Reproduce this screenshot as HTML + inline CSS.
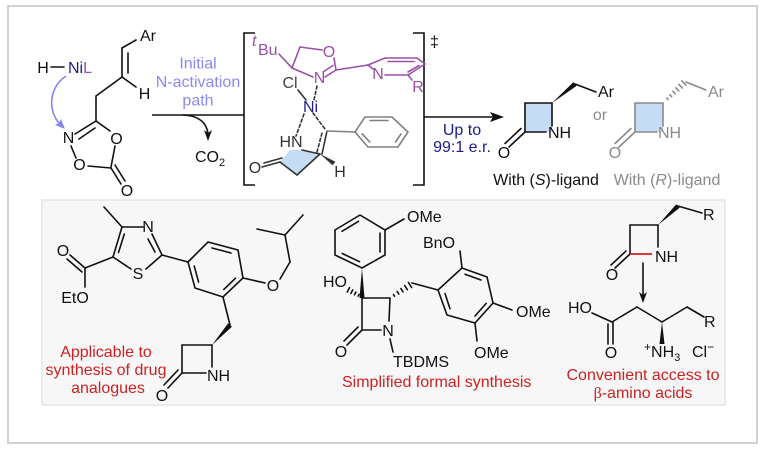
<!DOCTYPE html>
<html><head><meta charset="utf-8">
<style>
html,body{margin:0;padding:0;background:#fff}
svg{display:block}
text{font-family:"Liberation Sans",Arial,sans-serif;font-size:16px}
</style></head>
<body>
<svg width="767" height="450" viewBox="0 0 767 450" xmlns="http://www.w3.org/2000/svg">
<rect width="767" height="450" fill="#fff"/>
<rect x="8" y="6" width="749" height="437" fill="#fff" stroke="#d2d2d2" stroke-width="2"/>
<rect x="42" y="200" width="683" height="205" fill="#f7f7f7" stroke="#e6e6e6" stroke-width="1.5"/>

<!-- ===== Reactant ===== -->
<g stroke="#111" stroke-width="1.6" fill="none" stroke-linecap="round">
  <line x1="51" y1="67" x2="64" y2="67"/>
  <line x1="136" y1="40" x2="122" y2="48"/>
  <line x1="122" y1="48" x2="122" y2="77"/>
  <line x1="128" y1="53" x2="128" y2="73"/>
  <line x1="122" y1="77" x2="136" y2="87"/>
  <line x1="122" y1="77" x2="96" y2="96"/>
  <line x1="96" y1="96" x2="96" y2="121"/>
  <line x1="96" y1="121" x2="110" y2="131"/>
  <line x1="115" y1="146" x2="111" y2="167"/>
  <line x1="111" y1="168" x2="88" y2="166"/>
  <line x1="76" y1="158" x2="71" y2="146"/>
  <line x1="75" y1="134" x2="96" y2="121"/>
  <line x1="79" y1="139" x2="95" y2="128"/>
  <line x1="111" y1="168" x2="121" y2="184"/>
  <line x1="115" y1="165" x2="125" y2="181"/>
</g>
<text x="43" y="73" text-anchor="middle" fill="#111">H</text>
<text x="68" y="73"><tspan fill="#1c1c8a">Ni</tspan><tspan fill="#9b4fa8">L</tspan></text>
<text x="140" y="41" fill="#111">Ar</text>
<text x="144.5" y="99" text-anchor="middle" fill="#111">H</text>
<text x="68.5" y="143" text-anchor="middle" fill="#111">N</text>
<text x="116.5" y="144" text-anchor="middle" fill="#111">O</text>
<text x="79.5" y="170" text-anchor="middle" fill="#111">O</text>
<text x="127" y="196" text-anchor="middle" fill="#111">O</text>
<!-- lavender curved arrow -->
<path d="M66 76 C48 88 48 112 60 124" stroke="#8585ee" stroke-width="1.6" fill="none"/>
<polygon points="65,129 55,125 59,123 61,119" fill="#8585ee"/>
<text x="198" y="68.5" text-anchor="middle" fill="#8a8af0">Initial</text>
<text x="198" y="87" text-anchor="middle" fill="#8a8af0">N-activation</text>
<text x="198" y="105.5" text-anchor="middle" fill="#8a8af0">path</text>
<!-- reaction line + CO2 -->
<g stroke="#111" stroke-width="1.6" fill="none">
  <line x1="152" y1="115" x2="244" y2="115"/>
  <path d="M183 115 Q206 116 208 134"/>
  <path d="M255 33 H244 V185 H255"/>
  <path d="M413 33 H424 V185 H413"/>
  <line x1="424" y1="117" x2="497" y2="117"/>
</g>
<polygon points="208,141 204,130 208,133 212,130" fill="#111"/>
<polygon points="504,117 490,112 493,117 490,122" fill="#111"/>
<text x="195" y="162" fill="#111">CO<tspan font-size="11" dy="4">2</tspan></text>
<text x="430" y="47" font-size="14" fill="#111">‡</text>
<text x="462" y="135" text-anchor="middle" fill="#1c1c8a">Up to</text>
<text x="462" y="152" text-anchor="middle" fill="#1c1c8a">99:1 e.r.</text>

<!-- ===== Transition state ===== -->
<!-- lactam fill -->
<polygon points="303,150 320,154 297,175 280,162 290,150" fill="#c5dcf5"/>
<g stroke="#9b4fa8" stroke-width="1.6" fill="none" stroke-linecap="round">
  <line x1="279" y1="54" x2="292" y2="68"/>
  <line x1="292" y1="68" x2="300" y2="47"/>
  <line x1="300" y1="47" x2="322" y2="50"/>
  <line x1="334" y1="58" x2="336" y2="70"/>
  <line x1="336" y1="70" x2="325" y2="77"/>
  <line x1="333" y1="65.5" x2="323" y2="72"/>
  <line x1="313" y1="77" x2="292" y2="68"/>
  <line x1="336" y1="70" x2="368" y2="65"/>
  <line x1="368" y1="65" x2="385" y2="58"/>
  <line x1="385" y1="58" x2="417" y2="58"/>
  <line x1="388" y1="61.5" x2="414" y2="61.5"/>
  <line x1="417" y1="58" x2="425" y2="64"/>
  <line x1="425" y1="64" x2="408" y2="75"/>
  <line x1="419" y1="65.5" x2="408" y2="72"/>
  <line x1="408" y1="75" x2="385" y2="75"/>
  <line x1="373" y1="69" x2="368" y2="65"/>
  <line x1="408" y1="75" x2="412" y2="80"/>
</g>
<text x="252" y="46" font-size="11" font-style="italic" fill="#9b4fa8">t</text>
<text x="258" y="55" fill="#9b4fa8">Bu</text>
<text x="329" y="57" text-anchor="middle" fill="#9b4fa8">O</text>
<text x="319.5" y="83" text-anchor="middle" fill="#9b4fa8">N</text>
<text x="378" y="79" text-anchor="middle" font-size="15" fill="#9b4fa8">N</text>
<text x="418" y="92" text-anchor="middle" fill="#9b4fa8">R</text>
<text x="290" y="88" text-anchor="middle" fill="#444">Cl</text>
<text x="310.5" y="112" text-anchor="middle" fill="#1c1c8a">Ni</text>
<text x="291" y="147" text-anchor="middle" fill="#333">HN</text>
<text x="255" y="173" text-anchor="middle" fill="#333">O</text>
<text x="340" y="177" text-anchor="middle" fill="#333">H</text>
<g stroke="#333" stroke-width="1.6" fill="none" stroke-linecap="round">
  <line x1="298" y1="90" x2="306" y2="100"/>
  <line x1="317" y1="86" x2="314" y2="100" stroke-dasharray="3,2.5"/>
  <line x1="304" y1="114" x2="296" y2="136" stroke-dasharray="3,2.5"/>
  <line x1="313" y1="113" x2="325" y2="129" stroke-dasharray="3,2.5"/>
  <line x1="302" y1="150" x2="320" y2="154"/>
  <line x1="320" y1="154" x2="297" y2="175"/>
  <line x1="297" y1="175" x2="280" y2="162"/>
  <line x1="280" y1="162" x2="262" y2="167"/>
  <line x1="282" y1="158" x2="264" y2="163"/>
  <line x1="322" y1="154" x2="327" y2="131"/>
  <line x1="317" y1="152" x2="322" y2="133" stroke-dasharray="3,2.5"/>
</g>
<polygon points="320,154 335.5,161.7 332.5,165.3" fill="#333"/>
<g stroke="#808080" stroke-width="1.6" fill="none" stroke-linecap="round">
  <line x1="327" y1="131" x2="355" y2="132"/>
  <polygon points="355,132 365,117 392,117 408,132 398,147 368,147"/>
  <line x1="370" y1="120.5" x2="388" y2="120.5"/>
  <line x1="401" y1="134" x2="395.5" y2="142"/>
  <line x1="369.8" y1="142" x2="362" y2="133.7"/>
</g>

<!-- ===== Products ===== -->
<polygon points="525,103 552,103 552,132 525,132" fill="#c5dcf5"/>
<g stroke="#111" stroke-width="1.6" fill="none" stroke-linecap="round">
  <line x1="525" y1="103" x2="552" y2="103"/>
  <line x1="525" y1="103" x2="525" y2="132"/>
  <line x1="552" y1="103" x2="552" y2="126"/>
  <line x1="525" y1="132" x2="546" y2="132"/>
  <line x1="525" y1="132" x2="509" y2="147"/>
  <line x1="521" y1="128.5" x2="505" y2="143.5"/>
  <line x1="575" y1="84" x2="596" y2="92"/>
</g>
<polygon points="552,103 576.6,85.9 573.4,82.1" fill="#111"/>
<text x="548" y="138" fill="#111">NH</text>
<text x="504" y="158" text-anchor="middle" fill="#111">O</text>
<text x="598" y="97" fill="#111">Ar</text>
<text x="600" y="120" text-anchor="middle" fill="#8a8a8a">or</text>

<polygon points="635,103 663,103 663,132 635,132" fill="#c5dcf5"/>
<g stroke="#8a8a8a" stroke-width="1.6" fill="none" stroke-linecap="round">
  <line x1="635" y1="103" x2="663" y2="103"/>
  <line x1="635" y1="103" x2="635" y2="132"/>
  <line x1="663" y1="103" x2="663" y2="126"/>
  <line x1="635" y1="132" x2="657" y2="132"/>
  <line x1="635" y1="132" x2="619" y2="147"/>
  <line x1="631" y1="128.5" x2="615" y2="143.5"/>
  <line x1="686" y1="82" x2="706" y2="90"/>
  <line x1="666.7" y1="98.1" x2="668.1" y2="99.5"/>
  <line x1="669.75" y1="94.66" x2="671.65" y2="96.64"/>
  <line x1="672.8" y1="91.24" x2="675.2" y2="93.76"/>
  <line x1="675.8" y1="87.8" x2="678.8" y2="90.9"/>
  <line x1="678.9" y1="84.4" x2="682.3" y2="88"/>
  <line x1="681.9" y1="81" x2="685.9" y2="85.1"/>
</g>
<text x="658" y="138" fill="#8a8a8a">NH</text>
<text x="615" y="158" text-anchor="middle" fill="#8a8a8a">O</text>
<text x="708" y="97" fill="#8a8a8a">Ar</text>
<text x="546" y="185" text-anchor="middle" fill="#111">With (<tspan font-style="italic">S</tspan>)-ligand</text>
<text x="667" y="185" text-anchor="middle" fill="#8a8a8a">With (<tspan font-style="italic">R</tspan>)-ligand</text>

<!-- ===== Structure 1 ===== -->
<g stroke="#111" stroke-width="1.6" fill="none" stroke-linecap="round">
  <line x1="104" y1="207" x2="122" y2="227"/>
  <line x1="122" y1="227" x2="143" y2="227"/>
  <line x1="152" y1="234" x2="162" y2="255"/>
  <line x1="148" y1="239" x2="155" y2="252"/>
  <line x1="162" y1="255" x2="146" y2="269"/>
  <line x1="131" y1="269" x2="113" y2="257"/>
  <line x1="113" y1="257" x2="122" y2="227"/>
  <line x1="118.5" y1="252.5" x2="124.3" y2="234"/>
  <line x1="113" y1="257" x2="85" y2="268"/>
  <line x1="85" y1="268" x2="70" y2="255"/>
  <line x1="82" y1="272" x2="67" y2="259"/>
  <line x1="85" y1="268" x2="85" y2="287"/>
  <line x1="162" y1="255" x2="188" y2="262"/>
  <polygon points="188,262 208,242 238,250 243,278 223,297 195,288"/>
  <line x1="212" y1="248" x2="231" y2="253"/>
  <line x1="235.5" y1="278.2" x2="223.8" y2="289.5"/>
  <line x1="198.6" y1="282" x2="194.2" y2="266"/>
  <line x1="243" y1="278" x2="265" y2="283"/>
  <line x1="280" y1="279" x2="290" y2="262"/>
  <line x1="290" y1="262" x2="285" y2="235"/>
  <line x1="285" y1="235" x2="257" y2="229"/>
  <line x1="285" y1="235" x2="303" y2="215"/>
  <line x1="223" y1="297" x2="230" y2="325"/>
  <line x1="212" y1="345" x2="182" y2="345"/>
  <line x1="182" y1="345" x2="182" y2="373"/>
  <line x1="212" y1="345" x2="212" y2="367"/>
  <line x1="182" y1="373" x2="206" y2="373"/>
  <line x1="182" y1="373" x2="168" y2="388"/>
  <line x1="178" y1="370" x2="164" y2="385"/>
</g>
<polygon points="212,345 231.9,326.7 228.2,323.3" fill="#111"/>
<text x="148" y="232" text-anchor="middle" fill="#111">N</text>
<text x="138" y="279" text-anchor="middle" fill="#111">S</text>
<text x="63" y="256" text-anchor="middle" fill="#111">O</text>
<text x="75" y="303" text-anchor="middle" fill="#111">EtO</text>
<text x="273" y="291" text-anchor="middle" fill="#111">O</text>
<text x="207" y="381" fill="#111">NH</text>
<text x="162" y="401" text-anchor="middle" fill="#111">O</text>
<text x="106" y="357" text-anchor="middle" fill="#cc2222">Applicable to</text>
<text x="106" y="375" text-anchor="middle" fill="#cc2222">synthesis of drug</text>
<text x="108" y="393" text-anchor="middle" fill="#cc2222">analogues</text>

<!-- ===== Structure 2 ===== -->
<g stroke="#111" stroke-width="1.6" fill="none" stroke-linecap="round">
  <polygon points="335,230 360,215 385,230 385,255 362,268 335,255"/>
  <line x1="342" y1="231.3" x2="358.5" y2="221.3"/>
  <line x1="380" y1="233" x2="380" y2="252"/>
  <line x1="359.5" y1="261.7" x2="342.3" y2="253.5"/>
  <line x1="385" y1="230" x2="404" y2="219"/>
  <line x1="362" y1="298" x2="390" y2="298"/>
  <line x1="362" y1="298" x2="362" y2="330"/>
  <line x1="390" y1="298" x2="389" y2="321"/>
  <line x1="362" y1="330" x2="381" y2="330"/>
  <line x1="362" y1="330" x2="347" y2="345"/>
  <line x1="358" y1="327" x2="344" y2="341"/>
  <line x1="390" y1="339" x2="393" y2="352"/>
  <line x1="359.07" y1="294.3" x2="358.13" y2="296.1"/>
  <line x1="355.9" y1="292.07" x2="354.5" y2="294.73"/>
  <line x1="352.74" y1="289.83" x2="350.86" y2="293.37"/>
  <line x1="349.57" y1="287.59" x2="347.23" y2="292.01"/>
  <line x1="394.55" y1="296.24" x2="393.45" y2="294.56"/>
  <line x1="398.82" y1="294.06" x2="397.18" y2="291.54"/>
  <line x1="403.09" y1="291.88" x2="400.91" y2="288.52"/>
  <line x1="407.36" y1="289.7" x2="404.64" y2="285.5"/>
  <line x1="411.6" y1="287.5" x2="408.4" y2="282.5"/>
  <line x1="412" y1="283" x2="438" y2="290"/>
  <polygon points="438,290 462,268 487,277 493,303 475,323 447,315"/>
  <line x1="465" y1="274.3" x2="481" y2="280"/>
  <line x1="486.2" y1="303.4" x2="475" y2="316"/>
  <line x1="450" y1="308.8" x2="445" y2="293.5"/>
  <line x1="462" y1="268" x2="460" y2="251"/>
  <line x1="493" y1="303" x2="512" y2="310"/>
  <line x1="475" y1="323" x2="477" y2="341"/>
</g>
<polygon points="362,268 359.5,298 364.5,298" fill="#111"/>
<text x="407" y="222" fill="#111">OMe</text>
<text x="323" y="287" fill="#111">HO</text>
<text x="388" y="336" text-anchor="middle" fill="#111">N</text>
<text x="341" y="357" text-anchor="middle" fill="#111">O</text>
<text x="393" y="367" fill="#111">TBDMS</text>
<text x="423" y="248" fill="#111">BnO</text>
<text x="516" y="317" fill="#111">OMe</text>
<text x="474" y="358" fill="#111">OMe</text>
<text x="342" y="387" fill="#cc2222">Simplified formal synthesis</text>

<!-- ===== Structure 3 ===== -->
<g stroke="#111" stroke-width="1.6" fill="none" stroke-linecap="round">
  <line x1="630" y1="225" x2="658" y2="225"/>
  <line x1="630" y1="225" x2="630" y2="254"/>
  <line x1="658" y1="225" x2="658" y2="247"/>
  <line x1="630" y1="254" x2="615" y2="268"/>
  <line x1="626" y1="251" x2="611" y2="265"/>
  <line x1="678" y1="206" x2="702" y2="213"/>
  <line x1="643" y1="263" x2="643" y2="296"/>
  <line x1="592" y1="313" x2="612" y2="322"/>
  <line x1="612" y1="322" x2="637" y2="307"/>
  <line x1="637" y1="307" x2="662" y2="322"/>
  <line x1="662" y1="322" x2="687" y2="307"/>
  <line x1="687" y1="307" x2="704" y2="317"/>
  <line x1="613" y1="322" x2="613" y2="344"/>
  <line x1="608" y1="324" x2="608" y2="344"/>
</g>
<line x1="630" y1="254" x2="652" y2="254" stroke="#d42020" stroke-width="1.8"/>
<polygon points="658,225 679.7,207.8 676.3,204.2" fill="#111"/>
<polygon points="643,303 639,292 643,295 647,292" fill="#111"/>
<polygon points="662,322 659.5,344 664.5,344" fill="#111"/>
<text x="655" y="262" fill="#111">NH</text>
<text x="612" y="280" text-anchor="middle" fill="#111">O</text>
<text x="703" y="220" fill="#111">R</text>
<text x="568" y="313" fill="#111">HO</text>
<text x="611" y="358" text-anchor="middle" fill="#111">O</text>
<text x="704" y="327" fill="#111">R</text>
<text x="644" y="357" fill="#111"><tspan font-size="12" dy="-6">+</tspan><tspan dy="6">NH</tspan><tspan font-size="11" dy="4">3</tspan></text>
<text x="692" y="357" fill="#111">Cl<tspan font-size="12" dy="-6">−</tspan></text>
<text x="643" y="380" text-anchor="middle" fill="#cc2222">Convenient access to</text>
<text x="643" y="398" text-anchor="middle" fill="#cc2222"><tspan font-family="Liberation Serif, serif">β</tspan>-amino acids</text>
</svg>
</body></html>
